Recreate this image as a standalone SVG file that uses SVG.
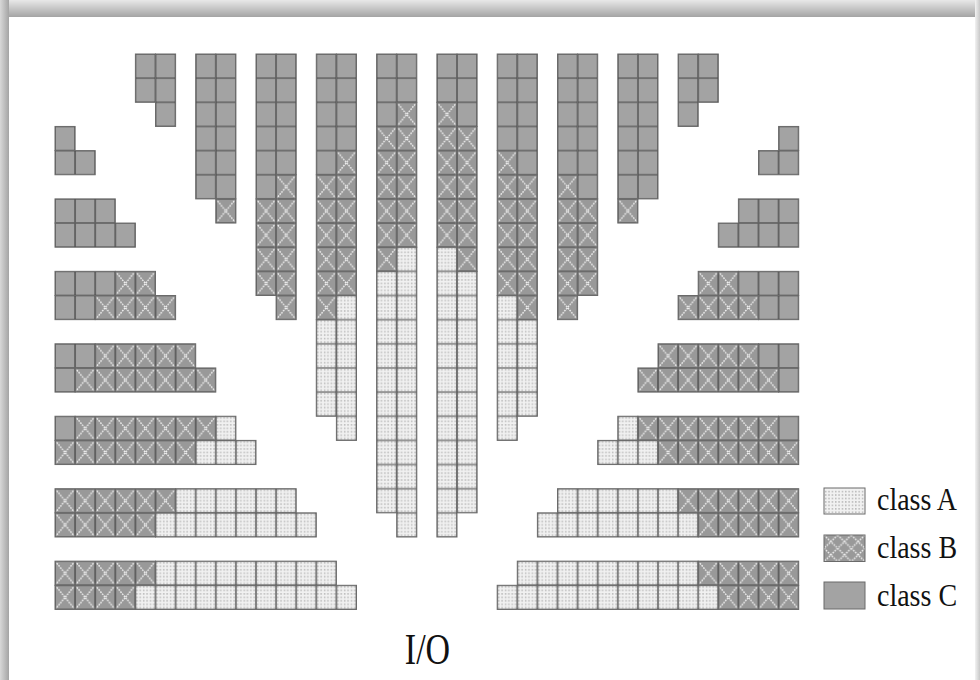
<svg xmlns="http://www.w3.org/2000/svg" width="980" height="680" viewBox="0 0 980 680">
<defs>
<linearGradient id="gTop" x1="0" y1="0" x2="0" y2="1"><stop offset="0" stop-color="#e8e8e8"/><stop offset="1" stop-color="#a4a4a4"/></linearGradient>
<linearGradient id="gLeft" x1="0" y1="0" x2="1" y2="0"><stop offset="0" stop-color="#d8d8d8"/><stop offset="1" stop-color="#a4a4a4"/></linearGradient>
<linearGradient id="gRight" x1="0" y1="0" x2="1" y2="0"><stop offset="0" stop-color="#f2f2f2"/><stop offset="1" stop-color="#c8c8c8"/></linearGradient>
<pattern id="dt" width="3.35" height="3.45" patternUnits="userSpaceOnUse"><circle cx="1.6" cy="1.7" r="0.75" fill="#a9a9a9"/></pattern>
<pattern id="pA" x="55" y="54" width="20.1" height="24.15" patternUnits="userSpaceOnUse">
<rect width="20.1" height="24.15" fill="#f1f1f1"/><rect width="20.1" height="24.15" fill="url(#dt)"/>
<path d="M0 0H20.1V24.15H0Z" fill="none" stroke="#3e3e3e" stroke-width="1.2"/></pattern>
<pattern id="pB" x="55" y="54" width="20.1" height="24.15" patternUnits="userSpaceOnUse">
<rect width="20.1" height="24.15" fill="#999"/>
<path d="M0 0L20.1 24.15M20.1 0L0 24.15" stroke="#f2f2f2" stroke-width="1.4" stroke-dasharray="1.6 1.1"/>
<path d="M0 0H20.1V24.15H0Z" fill="none" stroke="#3e3e3e" stroke-width="1.2"/></pattern>
<pattern id="pC" x="55" y="54" width="20.1" height="24.15" patternUnits="userSpaceOnUse">
<rect width="20.1" height="24.15" fill="#a3a3a3"/>
<path d="M0 0H20.1V24.15H0Z" fill="none" stroke="#3e3e3e" stroke-width="1.2"/></pattern>
<pattern id="pBL" x="824" y="535" width="13.67" height="13.25" patternUnits="userSpaceOnUse">
<rect width="13.67" height="13.25" fill="#999"/>
<path d="M0 0L13.67 13.25M13.67 0L0 13.25" stroke="#f2f2f2" stroke-width="1.4" stroke-dasharray="1.6 1.1"/></pattern>
<style>
.a{fill:url(#pA)}.b{fill:url(#pB)}.c{fill:url(#pC)}
.a,.b,.c{stroke:#6a6a6a;stroke-width:1}
.lab{font-family:"Liberation Serif","Times New Roman",serif;fill:#111}
</style>
</defs>
<g id="frame">
<rect width="980" height="680" fill="#fff"/>
<rect x="0" y="0" width="980" height="17" fill="url(#gTop)"/>
<rect x="0" y="0" width="9" height="680" fill="url(#gLeft)"/>
<rect x="975" y="0" width="5" height="680" fill="url(#gRight)"/>
</g>
<g id="columns">
<rect class="c" x="135.4" y="54" width="20.1" height="48.3"/>
<rect class="c" x="155.5" y="54" width="20.1" height="72.45"/>
<rect class="c" x="195.7" y="54" width="20.1" height="144.9"/>
<rect class="c" x="215.8" y="54" width="20.1" height="144.9"/>
<rect class="b" x="215.8" y="198.9" width="20.1" height="24.15"/>
<rect class="c" x="256" y="54" width="20.1" height="144.9"/>
<rect class="b" x="256" y="198.9" width="20.1" height="96.6"/>
<rect class="c" x="276.1" y="54" width="20.1" height="120.75"/>
<rect class="b" x="276.1" y="174.75" width="20.1" height="144.9"/>
<rect class="c" x="316.3" y="54" width="20.1" height="120.75"/>
<rect class="b" x="316.3" y="174.75" width="20.1" height="144.9"/>
<rect class="a" x="316.3" y="319.65" width="20.1" height="96.6"/>
<rect class="c" x="336.4" y="54" width="20.1" height="96.6"/>
<rect class="b" x="336.4" y="150.6" width="20.1" height="144.9"/>
<rect class="a" x="336.4" y="295.5" width="20.1" height="144.9"/>
<rect class="c" x="376.6" y="54" width="20.1" height="72.45"/>
<rect class="b" x="376.6" y="126.45" width="20.1" height="144.9"/>
<rect class="a" x="376.6" y="271.35" width="20.1" height="241.5"/>
<rect class="c" x="396.7" y="54" width="20.1" height="48.3"/>
<rect class="b" x="396.7" y="102.3" width="20.1" height="144.9"/>
<rect class="a" x="396.7" y="247.2" width="20.1" height="289.8"/>
<rect class="c" x="436.9" y="54" width="20.1" height="48.3"/>
<rect class="b" x="436.9" y="102.3" width="20.1" height="144.9"/>
<rect class="a" x="436.9" y="247.2" width="20.1" height="289.8"/>
<rect class="c" x="457" y="54" width="20.1" height="72.45"/>
<rect class="b" x="457" y="126.45" width="20.1" height="144.9"/>
<rect class="a" x="457" y="271.35" width="20.1" height="241.5"/>
<rect class="c" x="497.2" y="54" width="20.1" height="96.6"/>
<rect class="b" x="497.2" y="150.6" width="20.1" height="144.9"/>
<rect class="a" x="497.2" y="295.5" width="20.1" height="144.9"/>
<rect class="c" x="517.3" y="54" width="20.1" height="120.75"/>
<rect class="b" x="517.3" y="174.75" width="20.1" height="144.9"/>
<rect class="a" x="517.3" y="319.65" width="20.1" height="96.6"/>
<rect class="c" x="557.5" y="54" width="20.1" height="120.75"/>
<rect class="b" x="557.5" y="174.75" width="20.1" height="144.9"/>
<rect class="c" x="577.6" y="54" width="20.1" height="144.9"/>
<rect class="b" x="577.6" y="198.9" width="20.1" height="96.6"/>
<rect class="c" x="617.8" y="54" width="20.1" height="144.9"/>
<rect class="b" x="617.8" y="198.9" width="20.1" height="24.15"/>
<rect class="c" x="637.9" y="54" width="20.1" height="144.9"/>
<rect class="c" x="678.1" y="54" width="20.1" height="72.45"/>
<rect class="c" x="698.2" y="54" width="20.1" height="48.3"/>
</g>
<g id="left-blocks">
<rect class="c" x="55" y="126.45" width="20.1" height="24.15"/>
<rect class="c" x="55" y="150.6" width="40.2" height="24.15"/>
<rect class="c" x="55" y="198.9" width="60.3" height="24.15"/>
<rect class="c" x="55" y="223.05" width="80.4" height="24.15"/>
<rect class="c" x="55" y="271.35" width="60.3" height="24.15"/>
<rect class="b" x="115.3" y="271.35" width="40.2" height="24.15"/>
<rect class="c" x="55" y="295.5" width="40.2" height="24.15"/>
<rect class="b" x="95.2" y="295.5" width="80.4" height="24.15"/>
<rect class="c" x="55" y="343.8" width="40.2" height="24.15"/>
<rect class="b" x="95.2" y="343.8" width="100.5" height="24.15"/>
<rect class="c" x="55" y="367.95" width="20.1" height="24.15"/>
<rect class="b" x="75.1" y="367.95" width="140.7" height="24.15"/>
<rect class="c" x="55" y="416.25" width="20.1" height="24.15"/>
<rect class="b" x="75.1" y="416.25" width="140.7" height="24.15"/>
<rect class="a" x="215.8" y="416.25" width="20.1" height="24.15"/>
<rect class="b" x="55" y="440.4" width="140.7" height="24.15"/>
<rect class="a" x="195.7" y="440.4" width="60.3" height="24.15"/>
<rect class="b" x="55" y="488.7" width="120.6" height="24.15"/>
<rect class="a" x="175.6" y="488.7" width="120.6" height="24.15"/>
<rect class="b" x="55" y="512.85" width="100.5" height="24.15"/>
<rect class="a" x="155.5" y="512.85" width="160.8" height="24.15"/>
<rect class="b" x="55" y="561.15" width="100.5" height="24.15"/>
<rect class="a" x="155.5" y="561.15" width="180.9" height="24.15"/>
<rect class="b" x="55" y="585.3" width="80.4" height="24.15"/>
<rect class="a" x="135.4" y="585.3" width="221.1" height="24.15"/>
</g>
<g id="right-blocks">
<rect class="c" x="778.6" y="126.45" width="20.1" height="24.15"/>
<rect class="c" x="758.5" y="150.6" width="40.2" height="24.15"/>
<rect class="c" x="738.4" y="198.9" width="60.3" height="24.15"/>
<rect class="c" x="718.3" y="223.05" width="80.4" height="24.15"/>
<rect class="b" x="698.2" y="271.35" width="40.2" height="24.15"/>
<rect class="c" x="738.4" y="271.35" width="60.3" height="24.15"/>
<rect class="b" x="678.1" y="295.5" width="80.4" height="24.15"/>
<rect class="c" x="758.5" y="295.5" width="40.2" height="24.15"/>
<rect class="b" x="658" y="343.8" width="100.5" height="24.15"/>
<rect class="c" x="758.5" y="343.8" width="40.2" height="24.15"/>
<rect class="b" x="637.9" y="367.95" width="140.7" height="24.15"/>
<rect class="c" x="778.6" y="367.95" width="20.1" height="24.15"/>
<rect class="a" x="617.8" y="416.25" width="20.1" height="24.15"/>
<rect class="b" x="637.9" y="416.25" width="140.7" height="24.15"/>
<rect class="c" x="778.6" y="416.25" width="20.1" height="24.15"/>
<rect class="a" x="597.7" y="440.4" width="60.3" height="24.15"/>
<rect class="b" x="658" y="440.4" width="140.7" height="24.15"/>
<rect class="a" x="557.5" y="488.7" width="120.6" height="24.15"/>
<rect class="b" x="678.1" y="488.7" width="120.6" height="24.15"/>
<rect class="a" x="537.4" y="512.85" width="160.8" height="24.15"/>
<rect class="b" x="698.2" y="512.85" width="100.5" height="24.15"/>
<rect class="a" x="517.3" y="561.15" width="180.9" height="24.15"/>
<rect class="b" x="698.2" y="561.15" width="100.5" height="24.15"/>
<rect class="a" x="497.2" y="585.3" width="221.1" height="24.15"/>
<rect class="b" x="718.3" y="585.3" width="80.4" height="24.15"/>
</g>
<g id="legend">
<rect x="824" y="488" width="41" height="26" fill="#f1f1f1" stroke="#6a6a6a"/>
<rect x="824" y="488" width="41" height="26" fill="url(#dt)"/>
<rect x="824" y="535" width="41" height="26.5" fill="url(#pBL)" stroke="#6a6a6a"/>
<rect x="824" y="582" width="41" height="27" fill="#a3a3a3" stroke="#6a6a6a"/>
<text class="lab" x="877" y="510" font-size="28" transform="translate(0,-51) scale(1,1.1)">class A</text>
<text class="lab" x="877" y="558" font-size="28" transform="translate(0,-55.8) scale(1,1.1)">class B</text>
<text class="lab" x="877" y="606" font-size="28" transform="translate(0,-60.6) scale(1,1.1)">class C</text>
</g>
<text id="io" class="lab" x="427.5" y="664" font-size="34" text-anchor="middle" transform="translate(0,-199.2) scale(1,1.3)">I/O</text>
</svg>
